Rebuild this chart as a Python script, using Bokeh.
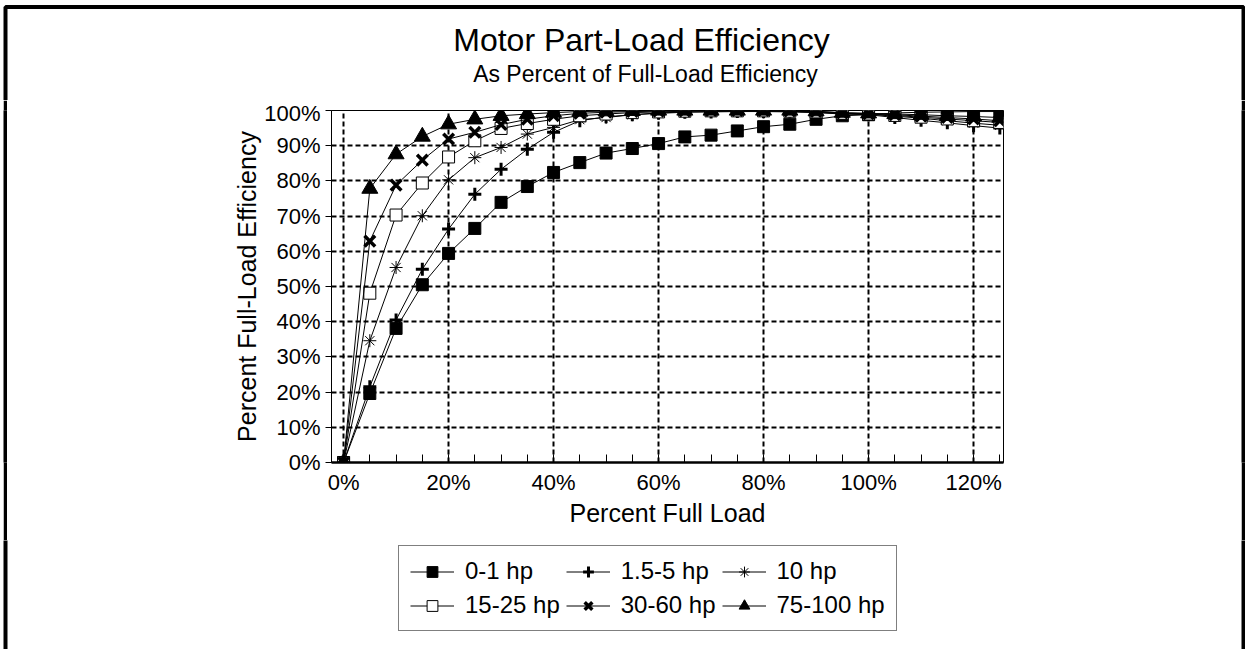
from bokeh.plotting import figure
from bokeh.layouts import column, row
from bokeh.models import (Range1d, Legend, LegendItem, FixedTicker, Spacer,
                          PrintfTickFormatter, Label, BoxAnnotation)
from bokeh.embed import file_html
from bokeh.resources import INLINE

# ---------------- data ----------------
load_pct = [0, 5, 10, 15, 20, 25, 30, 35, 40, 45, 50, 55, 60, 65, 70, 75,
            80, 85, 90, 95, 100, 105, 110, 115, 120, 125]

hp_0_1 = [0, 19.6, 38.1, 50.5, 59.4, 66.5, 73.9, 78.4, 82.4, 85.2, 87.9, 89.2,
          90.6, 92.5, 93.0, 94.2, 95.4, 96.1, 97.5, 98.5, 98.8, 99.3, 99.5,
          99.6, 99.7, 99.7]
hp_1_5_5 = [0, 21.5, 40.5, 54.9, 66.3, 76.2, 83.3, 89.0, 93.8, 97.1, 98.2,
            98.8, 99.2, 99.5, 99.6, 99.7, 99.7, 99.6, 99.4, 99.0, 98.8, 98.0,
            97.2, 96.5, 95.7, 95.0]
hp_10 = [0, 34.6, 55.4, 70.1, 80.3, 86.6, 89.5, 93.3, 95.2, 97.4, 98.0, 98.8,
         99.3, 99.6, 99.7, 99.8, 99.8, 99.7, 99.5, 99.1, 98.9, 98.4, 97.8,
         97.1, 96.4, 95.8]
hp_15_25 = [0, 48.1, 70.3, 79.4, 86.8, 91.4, 94.9, 96.3, 97.5, 98.5, 99.0,
            99.4, 99.6, 99.8, 99.9, 99.9, 99.9, 99.8, 99.6, 99.2, 99.0, 98.6,
            98.1, 97.6, 97.1, 96.6]
hp_30_60 = [0, 62.9, 78.8, 85.9, 91.9, 93.8, 96.0, 97.5, 98.5, 99.2, 99.5,
            99.7, 99.8, 99.9, 100, 100, 100, 99.9, 99.7, 99.3, 99.1, 98.8,
            98.4, 98.0, 97.6, 97.1]
hp_75_100 = [0, 77.8, 87.6, 92.6, 96.1, 97.5, 98.5, 99.0, 99.4, 99.7, 99.8,
             99.9, 100, 100, 100, 100, 100, 100, 99.8, 99.4, 99.2, 99.0, 98.8,
             98.5, 98.3, 98.0]

series_names = ["0-1 hp", "1.5-5 hp", "10 hp", "15-25 hp", "30-60 hp", "75-100 hp"]
series_values = [hp_0_1, hp_1_5_5, hp_10, hp_15_25, hp_30_60, hp_75_100]

x_major_ticks = [0, 20, 40, 60, 80, 100, 120]
x_minor_ticks = [0, 5, 10, 15, 20, 25, 30, 35, 40, 45, 50, 55, 60, 65, 70, 75,
                 80, 85, 90, 95, 100, 105, 110, 115, 120, 125]
y_ticks = [0, 10, 20, 30, 40, 50, 60, 70, 80, 90, 100]

title_text = "Motor Part-Load Efficiency"
subtitle_text = "As Percent of Full-Load Efficiency"
x_label = "Percent Full Load"
y_label = "Percent Full-Load Efficiency"

# ---------------- styles ----------------
FONT = "Liberation Sans"
marker_styles = [
    dict(marker="square", size=12, fill_color="black", line_width=1),
    dict(marker="cross", size=13, fill_color="black", line_width=3),
    dict(marker="asterisk", size=13, fill_color="black", line_width=1),
    dict(marker="square", size=12, fill_color="white", line_width=1),
    dict(marker="x", size=15, fill_color="black", line_width=3.5),
    dict(marker="triangle", size=16, fill_color="black", line_width=1),
]

TOTAL_W = 1245
HEAD_H, MID_H, LEG_H = 100, 440, 109
GAP_W, EDGE_W = 3, 4


def blank(width, height, fill="white", rng=(0, 1)):
    f = figure(width=width, height=height, output_backend="svg",
               toolbar_location=None, x_axis_location=None,
               y_axis_location=None, x_range=Range1d(*rng),
               y_range=Range1d(*rng), min_border=0,
               min_border_left=0, min_border_right=0,
               min_border_top=0, min_border_bottom=0)
    f.grid.visible = False
    f.outline_line_color = None
    f.background_fill_color = fill
    f.border_fill_color = fill
    return f


def border_box(left, right, top, bottom):
    return BoxAnnotation(left=left, right=right, top=top, bottom=bottom,
                         left_units="screen", right_units="screen",
                         top_units="screen", bottom_units="screen",
                         fill_alpha=0, line_color="black", line_alpha=1,
                         line_width=4)


# ---------------- header (title + subtitle) ----------------
head = blank(TOTAL_W, HEAD_H)
head.add_layout(border_box(5, 1243, HEAD_H - 6.5, -50))
head.add_layout(Label(x=641, y=HEAD_H - 39, x_units="screen", y_units="screen",
                      text=title_text, text_font=FONT, text_font_size="32px",
                      text_align="center", text_baseline="middle",
                      text_color="black"))
head.add_layout(Label(x=645, y=HEAD_H - 73, x_units="screen", y_units="screen",
                      text=subtitle_text, text_font=FONT, text_font_size="23px",
                      text_align="center", text_baseline="middle",
                      text_color="black"))

# ---------------- main plot ----------------
P_X0 = GAP_W + EDGE_W
P_W = TOTAL_W - P_X0 - EDGE_W
p = figure(width=P_W, height=MID_H, output_backend="svg", toolbar_location=None,
           x_range=Range1d(-2.3, 125.7), y_range=Range1d(0, 100),
           min_border_left=331 - P_X0, min_border_right=P_X0 + P_W - 1003,
           min_border_top=10, min_border_bottom=MID_H - 362)
p.background_fill_color = "white"
p.border_fill_color = "white"
p.outline_line_color = "black"
p.outline_line_width = 1

p.xaxis.ticker = FixedTicker(ticks=x_major_ticks, minor_ticks=x_minor_ticks)
p.yaxis.ticker = FixedTicker(ticks=y_ticks)
p.xaxis.formatter = PrintfTickFormatter(format="%d%%")
p.yaxis.formatter = PrintfTickFormatter(format="%d%%")
for ax in (p.xaxis, p.yaxis):
    ax.major_label_text_font = FONT
    ax.major_label_text_font_size = "22px"
    ax.major_label_text_color = "black"
    ax.axis_label_text_font = FONT
    ax.axis_label_text_font_size = "25px"
    ax.axis_label_text_font_style = "normal"
    ax.axis_label_text_color = "black"
    ax.axis_line_color = "black"
    ax.major_tick_line_color = "black"
    ax.minor_tick_line_color = "black"

p.xaxis.axis_label = x_label
p.yaxis.axis_label = y_label
p.xaxis.axis_line_width = 2.5
p.xaxis.major_tick_in = 8
p.xaxis.major_tick_out = 0
p.xaxis.minor_tick_in = 8
p.xaxis.minor_tick_out = 0
p.xaxis.major_label_standoff = 7
p.xaxis.axis_label_standoff = 1
p.yaxis.axis_line_width = 1
p.yaxis.major_tick_in = 0
p.yaxis.major_tick_out = 6
p.yaxis.minor_tick_in = 0
p.yaxis.minor_tick_out = 0
p.yaxis.major_label_standoff = 5
p.yaxis.axis_label_standoff = 0

for g in (p.xgrid, p.ygrid):
    g.grid_line_color = "black"
    g.grid_line_width = 2
    g.grid_line_dash = "5 3"

for name, vals, st in zip(series_names, series_values, marker_styles):
    p.line(load_pct, vals, line_color="black", line_width=1)
    p.scatter(load_pct, vals, marker=st["marker"], size=st["size"],
              fill_color=st["fill_color"], line_color="black",
              line_width=st["line_width"])

# black side edges of the page frame
ledge = blank(EDGE_W, MID_H, fill="black")
redge = blank(EDGE_W, MID_H, fill="black")

# ---------------- legend ----------------
# legend renderers reuse the series but sit outside this strip's visible range
leg = blank(TOTAL_W, LEG_H, rng=(1000, 1001))
leg.add_layout(border_box(5, 1243, LEG_H + 50, -50))
items = []
for name, vals, st in zip(series_names, series_values, marker_styles):
    ln = leg.line(load_pct, vals, line_color="black", line_width=1)
    sc = leg.scatter(load_pct, vals, marker=st["marker"], size=st["size"],
                     fill_color=st["fill_color"], line_color="black",
                     line_width=st["line_width"])
    items.append(LegendItem(label=name, renderers=[ln, sc]))

legend = Legend(items=items, orientation="horizontal", ncols=3,
                location=(398, LEG_H - (631 - 540)), margin=0,
                border_line_color="black", border_line_width=1,
                background_fill_color="white", background_fill_alpha=1,
                label_text_font=FONT, label_text_font_size="24px",
                label_text_color="black",
                glyph_width=44, glyph_height=27, label_height=27,
                padding=11, spacing=6, label_standoff=11)
leg.add_layout(legend, "center")

page = column(head,
              row(Spacer(width=GAP_W, height=MID_H), ledge, p, redge, spacing=0),
              leg, spacing=0)
open("out.html", "w").write(file_html(page, INLINE))
